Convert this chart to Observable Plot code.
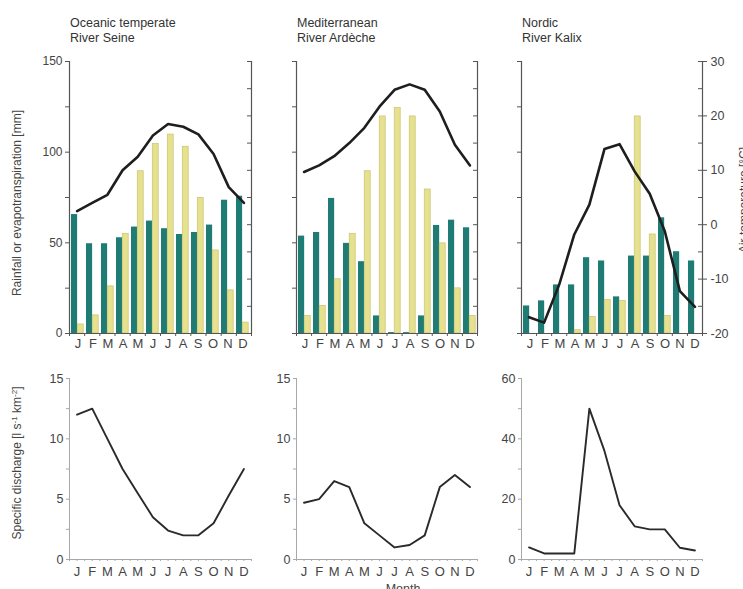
<!DOCTYPE html>
<html><head><meta charset="utf-8">
<script src="https://cdn.jsdelivr.net/npm/d3@7"></script>
<script src="https://cdn.jsdelivr.net/npm/@observablehq/plot@0.6"></script>
<style>
html,body{margin:0;padding:0;background:#fff;}
#chart{position:relative;width:743px;height:589px;overflow:hidden;font-family:"Liberation Sans",Arial,sans-serif;background:#fff;}
#chart svg{position:absolute;left:0;top:0;}
.t{position:absolute;font-size:12.5px;color:#333;line-height:15px;white-space:nowrap;font-family:"Liberation Sans",Arial,sans-serif;}
</style></head><body><div id="chart"></div>
<script>
const months = ["J","F","M","A","M","J","J","A","S","O","N","D"];
const titles = [["Oceanic temperate","River Seine"],["Mediterranean","River Ardèche"],["Nordic","River Kalix"]];

const rainSeine = [65.6,49.5,49.5,52.8,58.7,62,57.8,54.6,55.7,59.8,73.5,75.7];
const evapSeine = [5,10,26,55,89.5,104.5,109.7,103,74.8,45.8,23.8,6];
const tempSeine = [2.5,4,5.5,10,12.5,16.4,18.5,18,16.6,13,6.9,4];
const dischSeine = [12,12.5,10,7.5,5.5,3.5,2.4,2,2,3,5.3,7.5];

const rainArdeche = [53.7,55.7,74.5,49.7,39.6,9.7,0.5,0.5,9.7,59.6,62.5,58.3];
const evapArdeche = [9.7,15.2,29.9,55,89.5,119.7,124.3,119.7,79.4,49.7,24.9,9.7];
const tempArdeche = [9.7,10.9,12.6,15,17.8,21.7,24.8,25.8,24.8,20.8,14.7,10.9];
const dischArdeche = [4.7,5,6.5,6,3,2,1,1.2,2,6,7,6];

const rainKalix = [15.2,18,26.8,26.8,41.8,40,20.2,42.7,42.7,63.8,45.1,40];
const evapKalix = [0,0,0,1.8,9.2,18.5,18,119.7,54.6,9.7,0,0];
const tempKalix = [-17,-18,-11,-1.8,3.7,13.9,14.8,9.8,5.7,-1.2,-12.2,-15.1];
const dischKalix = [4,2,2,2,50,36,18,11,10,10,3.9,3];

const dischMax = [15,15,60];

const rain = [rainSeine, rainArdeche, rainKalix];
const evap = [evapSeine, evapArdeche, evapKalix];
const temp = [tempSeine, tempArdeche, tempKalix];
const disch = [dischSeine, dischArdeche, dischKalix];

const W = 743, H = 589;
const cols = [{L:69,R:251},{L:296,R:477},{L:521,R:702}];
const rowTop = {T:61,B:333}, rowBot = {T:378,B:559};
const teal = "#1e7c75", yellow = "#e6e18e", yellowStroke = "#c9c270";
const topAxis = "#555", botAxis = "#a8a8a8";
const chart = document.getElementById("chart");

function frameOpts(c, r) {
  return {width:W, height:H, marginLeft:c.L, marginRight:W-c.R, marginTop:r.T, marginBottom:H-r.B,
    style:{background:"transparent", fontFamily:"'Liberation Sans', Arial, sans-serif", fontSize:"12px", color:"#444", overflow:"visible"}};
}

cols.forEach((c, k) => {
  const data = d3.range(12).map(i => ({m:i, rain:rain[k][i], evap:evap[k][i], temp:temp[k][i], q:disch[k][i]}));
  const bw = (c.R - c.L) / 12;
  // bars (rainfall / evapotranspiration)
  chart.append(Plot.plot({
    ...frameOpts(c, rowTop),
    x:{type:"band", domain:d3.range(12), padding:0, axis:null},
    y:{domain:[0,150], axis:null},
    marks:[
      Plot.barY(data, {x:"m", y:"rain", fill:teal, insetLeft:1, insetRight:bw/2 + 0.3}),
      Plot.barY(data, {x:"m", y:"evap", fill:yellow, stroke:yellowStroke, strokeWidth:0.7, insetLeft:bw/2 - 0.3, insetRight:1.8}),
      Plot.axisY(d3.range(0,151,25), {anchor:"left", label:null, tickSize:4, stroke:topAxis, tickPadding:3, fontSize:12,
        tickFormat: d => (k === 0 && d % 50 === 0) ? String(d) : ""}),
      Plot.axisX(d3.range(12), {label:null, tickSize:0, tickPadding:5, fontSize:13, fill:"#444", tickFormat: i => months[i]})
    ]
  }));
  // temperature line & frame lines
  chart.append(Plot.plot({
    ...frameOpts(c, rowTop),
    x:{type:"linear", domain:[-0.5,11.5], axis:null},
    y:{domain:[-20,30], axis:null},
    marks:[
      Plot.ruleX([-0.5, 11.5], {stroke:topAxis, strokeWidth:1.2}),
      Plot.ruleY([-20], {stroke:topAxis, strokeWidth:1}),
      Plot.axisX(d3.range(-0.5,12,1), {label:null, tickSize:3, stroke:topAxis, tickFormat:() => ""}),
      Plot.tickY(d3.range(-20,31,5), {y:d => d, stroke:topAxis, insetLeft:(c.R - c.L) - 4}),
      Plot.axisY(d3.range(-20,31,10), {anchor:"right", label:null, tickSize: k === 2 ? 4 : 0, stroke:topAxis, tickPadding:4, fontSize:12.5,
        tickFormat: d => k === 2 ? String(d) : ""}),
      Plot.line(data, {x:"m", y:"temp", stroke:"#1e1e1e", strokeWidth:2.6, strokeLinejoin:"round"})
    ]
  }));
  // specific discharge
  const ym = dischMax[k];
  chart.append(Plot.plot({
    ...frameOpts(c, rowBot),
    x:{type:"linear", domain:[-0.5,11.5], axis:null},
    y:{domain:[0,ym], axis:null},
    marks:[
      Plot.ruleX([-0.5], {stroke:botAxis}),
      Plot.ruleY([0], {stroke:botAxis}),
      Plot.axisY(d3.range(0, ym + 0.01, ym/6), {anchor:"left", label:null, tickSize:3, stroke:botAxis, tickPadding:3, fontSize:12.5,
        tickFormat: d => (Math.abs(d % (ym/3)) < 1e-6) ? String(d) : ""}),
      Plot.axisX(d3.range(-0.5,12,0.5), {label:null, tickSize:2, stroke:botAxis, tickFormat:() => ""}),
      Plot.axisX(d3.range(12), {label:null, tickSize:0, tickPadding:7, fontSize:13, fill:"#444", tickFormat: i => months[i]}),
      Plot.line(data, {x:"m", y:"q", stroke:"#2a2a2a", strokeWidth:1.9, strokeLinejoin:"round"})
    ]
  }));
  // titles
  const t = document.createElement("div");
  t.className = "t";
  t.style.left = (c.L + 1) + "px";
  t.style.top = "16px";
  t.innerHTML = titles[k][0] + "<br>" + titles[k][1];
  chart.append(t);
});

// axis titles
const svg = d3.select(chart).append("svg").attr("width", W).attr("height", H)
  .style("position","absolute").style("left",0).style("top",0)
  .attr("font-family","'Liberation Sans', Arial, sans-serif").attr("fill","#444");
svg.append("text").attr("transform","translate(21,203) rotate(-90)").attr("text-anchor","middle")
  .attr("font-size",12).text("Rainfall or evapotranspiration [mm]");
const sd = svg.append("text").attr("transform","translate(21,463) rotate(-90)").attr("text-anchor","middle").attr("font-size",12);
sd.append("tspan").text("Specific discharge [l s");
sd.append("tspan").attr("dy",-4).attr("font-size",8).text("-1");
sd.append("tspan").attr("dy",4).text(" km");
sd.append("tspan").attr("dy",-4).attr("font-size",8).text("-2");
sd.append("tspan").attr("dy",4).text("]");
svg.append("text").attr("transform","translate(748,200) rotate(-90)").attr("text-anchor","middle")
  .attr("font-size",12).text("Air temperature [°C]");
svg.append("text").attr("x",403).attr("y",593).attr("text-anchor","middle").attr("font-size",12.5).text("Month");
</script>
</body></html>
